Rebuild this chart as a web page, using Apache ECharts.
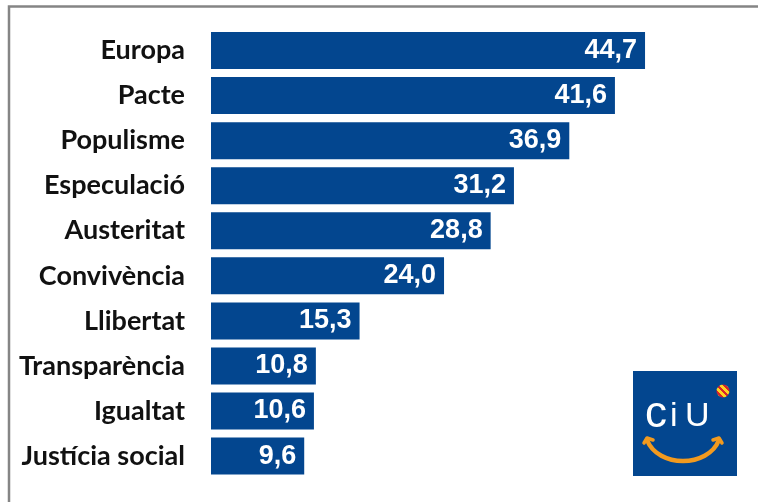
<!DOCTYPE html>
<html>
<head>
<meta charset="utf-8">
<script src="https://cdn.jsdelivr.net/npm/echarts@6/dist/echarts.min.js"></script>
<style>html,body{margin:0;padding:0;background:#fff}#c{width:758px;height:502px}</style>
</head>
<body>
<div id="c"></div>
<script>
var categories = ["Europa", "Pacte", "Populisme", "Especulació", "Austeritat", "Convivència", "Llibertat", "Transparència", "Igualtat", "Justícia social"];
var values = [44.7, 41.6, 36.9, 31.2, 28.8, 24.0, 15.3, 10.8, 10.6, 9.6];

var chart = echarts.init(document.getElementById('c'), null, {renderer: 'canvas'});
var blue = '#03468F';
var orange = '#F29A1F';
function letter(t, x, y, size) {
  return {type: 'text', x: x, y: y, style: {text: t, fill: '#fff', fontFamily: 'Liberation Sans', fontSize: size, align: 'left', verticalAlign: 'middle'}};
}
chart.setOption({
  animation: false,
  backgroundColor: '#fff',
  grid: {left: 211, width: 485.5, top: 28, height: 450.6, containLabel: false},
  xAxis: {type: 'value', min: 0, max: 50, show: false},
  yAxis: {
    type: 'category', data: categories, inverse: true,
    axisLine: {show: false}, axisTick: {show: false}, splitLine: {show: false},
    axisLabel: {margin: 26, color: '#111', fontFamily: 'Lato', fontWeight: 'bold', fontSize: 27}
  },
  series: [{
    type: 'bar', data: values, barWidth: 37,
    itemStyle: {color: blue},
    label: {
      show: true, position: 'insideRight', distance: 8, color: '#fff',
      fontFamily: 'Liberation Sans', fontWeight: 'bold', fontSize: 27,
      formatter: function (p) { return p.value.toFixed(1).replace('.', ','); }
    }
  }],
  graphic: [
    {type: 'rect', shape: {x: 9, y: 6.5, width: 900, height: 700}, style: {fill: null, stroke: '#858585', lineWidth: 2.5}, silent: true},
    {type: 'rect', shape: {x: 633, y: 371, width: 104, height: 105}, style: {fill: blue}},
    letter('c', 645, 414.5, 44), letter('i', 670, 417, 34), letter('U', 685, 417, 34),
    {type: 'bezierCurve', shape: {x1: 647, y1: 440, cpx1: 658, cpy1: 468, cpx2: 708, cpy2: 468, x2: 719, y2: 440}, style: {stroke: orange, lineWidth: 4.5, fill: null, lineCap: 'round'}},
    {type: 'polyline', shape: {points: [[644, 443], [647, 438], [653, 440]]}, style: {stroke: orange, lineWidth: 3.5, fill: null, lineCap: 'round', lineJoin: 'round'}},
    {type: 'polyline', shape: {points: [[713, 440], [719, 438], [722, 443]]}, style: {stroke: orange, lineWidth: 3.5, fill: null, lineCap: 'round', lineJoin: 'round'}},
    {type: 'circle', shape: {cx: 723, cy: 391, r: 6.5}, style: {fill: {
      type: 'linear', x: 0, y: 1, x2: 1, y2: 0,
      colorStops: [
        {offset: 0, color: orange}, {offset: 0.18, color: orange}, {offset: 0.18, color: '#D8232A'}, {offset: 0.3, color: '#D8232A'},
        {offset: 0.3, color: '#FFD21F'}, {offset: 0.45, color: '#FFD21F'}, {offset: 0.45, color: '#D8232A'}, {offset: 0.57, color: '#D8232A'},
        {offset: 0.57, color: '#FFD21F'}, {offset: 0.72, color: '#FFD21F'}, {offset: 0.72, color: '#D8232A'}, {offset: 0.84, color: '#D8232A'},
        {offset: 0.84, color: orange}, {offset: 1, color: orange}
      ]}}}
  ]
});
</script>
</body>
</html>
